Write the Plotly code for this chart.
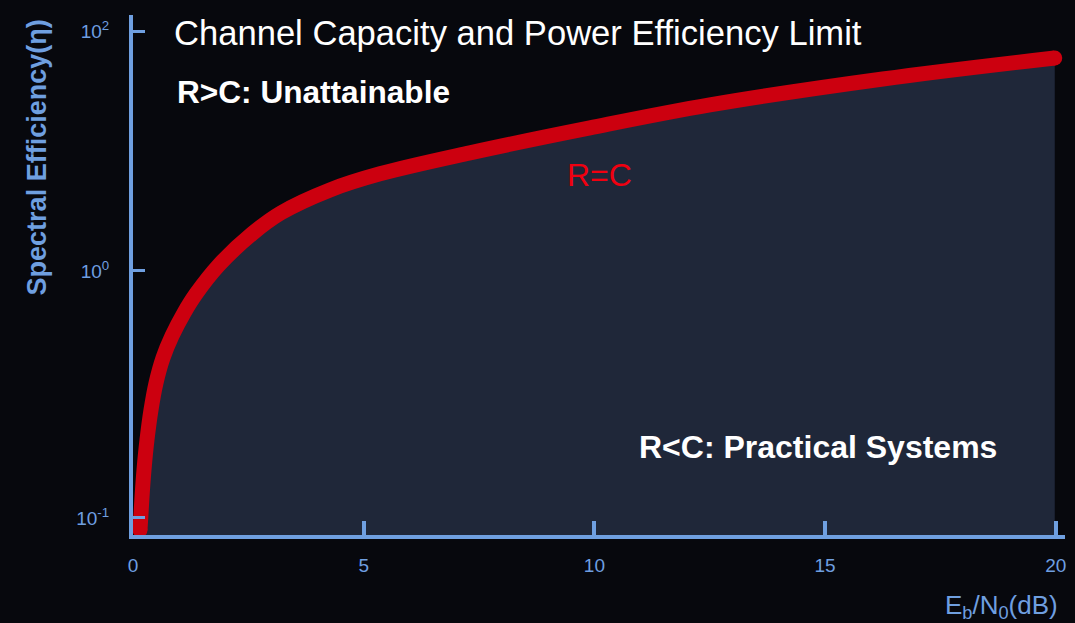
import plotly.graph_objects as go

# Curve: Eb/N0 (dB) vs vertical position in axis units
CURVE_X = [0.152, 0.195, 0.238, 0.303, 0.390, 0.498, 0.650, 0.845, 1.105, 1.365,
           1.863, 2.579, 3.207, 4.269, 5.352, 7.302, 9.903, 12.503, 16.251, 19.978]
CURVE_Y = [0.020, 0.154, 0.263, 0.385, 0.506, 0.615, 0.717, 0.806, 0.899, 0.976,
           1.093, 1.219, 1.304, 1.397, 1.462, 1.547, 1.648, 1.741, 1.846, 1.931]

X_TICKS = [0, 5, 10, 15, 20]
X_TICK_TEXT = ["0", "5", "10", "15", "20"]
Y_TICKS = [0.069, 1.069, 2.040]
Y_TICK_TEXT = ["10<sup>-1</sup>", "10<sup>0</sup>", "10<sup>2</sup>"]

TITLE = "Channel Capacity and Power Efficiency Limit"
LABEL_ABOVE = "R>C: Unattainable"
LABEL_BELOW = "R<C: Practical Systems"
LABEL_CURVE = "R=C"
X_TITLE = "E<sub>b</sub>/N<sub>0</sub>(dB)"
Y_TITLE = "Spectral Efficiency(η)"

AXIS = "#6f9fe0"
RED = "#cc000f"
FILL = "#1f2739"
BG = "#07080d"
FONT = "Liberation Sans, Arial, sans-serif"

fig = go.Figure()
fig.add_trace(go.Scatter(
    x=CURVE_X, y=CURVE_Y, mode="lines",
    line=dict(color=RED, width=15, shape="spline", smoothing=1.0),
    fill="tozeroy", fillcolor=FILL, hoverinfo="skip", showlegend=False,
))
fig.add_trace(go.Scatter(
    x=[CURVE_X[0], CURVE_X[-1]], y=[CURVE_Y[0], CURVE_Y[-1]], mode="markers",
    marker=dict(color=RED, size=15, line=dict(width=0)),
    hoverinfo="skip", showlegend=False,
))

fig.update_layout(
    width=1075, height=623,
    margin=dict(l=133, r=10, t=15, b=88),
    paper_bgcolor=BG, plot_bgcolor=BG,
    font=dict(family=FONT, color=AXIS),
    xaxis=dict(
        range=[0, 20.2], showgrid=False, zeroline=False,
        showline=True, linecolor=AXIS, linewidth=4,
        ticks="inside", ticklen=14, tickwidth=4, tickcolor=AXIS,
        tickvals=X_TICKS, ticktext=X_TICK_TEXT,
        tickfont=dict(size=19, color=AXIS, family=FONT),
        ticklabelstandoff=10,
    ),
    yaxis=dict(
        range=[0, 2.105], showgrid=False, zeroline=False,
        showline=True, linecolor=AXIS, linewidth=4,
        ticks="inside", ticklen=12, tickwidth=3, tickcolor=AXIS,
        tickvals=Y_TICKS, ticktext=Y_TICK_TEXT,
        tickfont=dict(size=19, color=AXIS, family=FONT),
        ticklabelstandoff=16,
    ),
)

ann = [
    dict(text=TITLE, x=0.042, y=0.965, xanchor="left", yanchor="middle",
         font=dict(size=34.6, color="white", family=FONT)),
    dict(text="<b>" + LABEL_ABOVE + "</b>", x=0.045, y=0.852, xanchor="left", yanchor="middle",
         font=dict(size=31.6, color="white", family=FONT)),
    dict(text="<b>" + LABEL_BELOW.replace("<", "&lt;") + "</b>", x=0.541, y=0.169, xanchor="left", yanchor="middle",
         font=dict(size=32, color="white", family=FONT)),
    dict(text=LABEL_CURVE, x=0.4635, y=0.692, xanchor="left", yanchor="middle",
         font=dict(size=32, color="#f00010", family=FONT)),
    dict(text=X_TITLE, x=0.995, y=-0.138, xanchor="right", yanchor="middle",
         font=dict(size=26, color=AXIS, family=FONT)),
    dict(text="<b>" + Y_TITLE + "</b>", x=-0.102, y=0.726, xanchor="center", yanchor="middle",
         textangle=-90, font=dict(size=27, color=AXIS, family=FONT)),
]
for a in ann:
    a.update(xref="paper", yref="paper", showarrow=False)
    fig.add_annotation(**a)

fig.write_html(
    "out.html",
    config={"displayModeBar": False},
    post_script="document.body.style.margin='0';document.body.style.background='#07080d';",
)
